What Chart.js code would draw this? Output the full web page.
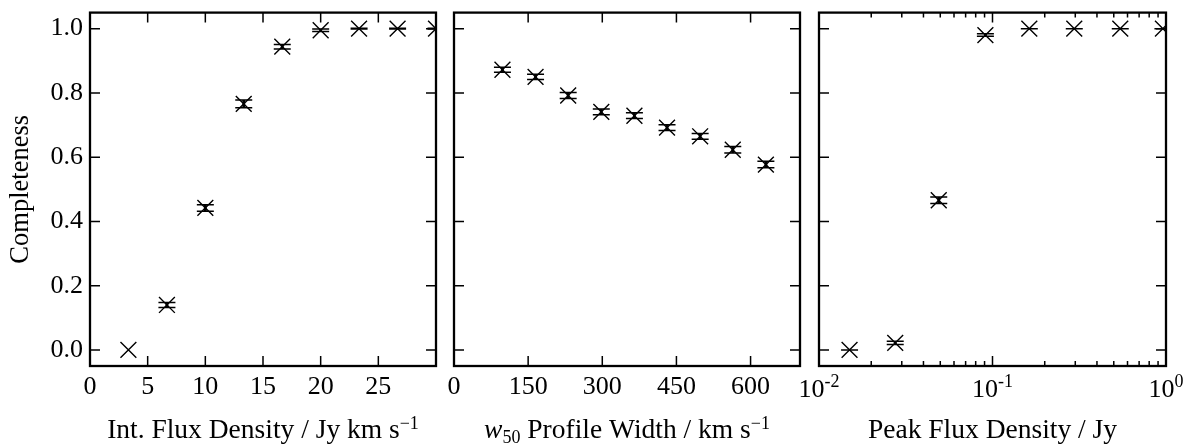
<!DOCTYPE html>
<html><head><meta charset="utf-8">
<script src="https://cdn.jsdelivr.net/npm/chart.js@4"></script>
<style>
html,body{margin:0;padding:0;background:#fff;}
#wrap{position:relative;width:1194px;height:448px;background:#fff;}
canvas{position:absolute;left:0;top:0;}
</style></head><body>
<div id="wrap">
<canvas id="c1" width="1194" height="448"></canvas>
<canvas id="c2" width="1194" height="448"></canvas>
<canvas id="c3" width="1194" height="448"></canvas>
</div>
<script>
// ---- data ----
const intFluxX   = [3.33, 6.67, 10, 13.33, 16.67, 20, 23.33, 26.67, 30];
const intFluxY   = [0.0, 0.140, 0.442, 0.766, 0.944, 0.995, 1.0, 1.0, 1.0];
const intFluxErr = [null, 0.008, 0.010, 0.012, 0.007, 0.004, 0.001, 0.001, 0.001];

const widthX   = [98, 165, 231, 298, 365, 431, 498, 564, 631];
const widthY   = [0.872, 0.850, 0.792, 0.741, 0.729, 0.692, 0.665, 0.623, 0.577];
const widthErr = [0.008, 0.008, 0.009, 0.009, 0.009, 0.009, 0.009, 0.010, 0.010];

const peakX   = [0.015, 0.0275, 0.049, 0.091, 0.163, 0.296, 0.545, 0.96];
const peakY   = [0.0, 0.022, 0.466, 0.980, 1.0, 1.0, 1.0, 1.0];
const peakErr = [0, 0.005, 0.010, 0.004, 0, 0, 0, 0];

const yTicks        = [0, 0.2, 0.4, 0.6, 0.8, 1.0];
const intFluxTicks  = [0, 5, 10, 15, 20, 25];
const widthTicks    = [0, 150, 300, 450, 600];
const peakTicks     = [0.01, 0.1, 1];
const peakTickBase  = ['10', '10', '10'];
const peakTickExp   = ['-2', '-1', '0'];

const yTitle = 'Completeness';

// ---- styling ----
const FONT = '"Liberation Serif", "Times New Roman", serif';
const TICK_PX = 26, TITLE_PX = 27.5, YTITLE_PX = 26.5, SUP_PX = 18;

function frameAndErrPlugin(cfg) {
  return {
    id: 'frame_' + cfg.id,
    beforeDatasetsDraw(chart) {
      const {ctx, chartArea: a} = chart;
      const xs = chart.scales.x, ys = chart.scales.y;
      ctx.save();
      ctx.beginPath(); ctx.rect(a.left, a.top, a.right - a.left, a.bottom - a.top); ctx.clip();
      ctx.strokeStyle = '#000';
      for (let i = 0; i < cfg.x.length; i++) {
        const e = cfg.err[i];
        if (e === null || e === undefined) continue;
        const px = xs.getPixelForValue(cfg.x[i]);
        const p1 = ys.getPixelForValue(cfg.y[i] - e);
        const p2 = ys.getPixelForValue(cfg.y[i] + e);
        ctx.lineWidth = 2.8;
        ctx.beginPath(); ctx.moveTo(px, p1); ctx.lineTo(px, p2); ctx.stroke();
        ctx.lineWidth = 1.5;
        ctx.beginPath();
        ctx.moveTo(px - 8.5, p1); ctx.lineTo(px + 8.5, p1);
        ctx.moveTo(px - 8.5, p2); ctx.lineTo(px + 8.5, p2);
        ctx.stroke();
      }
      ctx.restore();
    },
    afterDatasetsDraw(chart) {
      const {ctx, chartArea: a} = chart;
      const xs = chart.scales.x, ys = chart.scales.y;
      ctx.save();
      ctx.strokeStyle = '#000';
      ctx.lineWidth = 1.5;
      ctx.beginPath();
      for (const v of yTicks) {
        const py = ys.getPixelForValue(v);
        ctx.moveTo(a.left, py); ctx.lineTo(a.left + 10, py);
        ctx.moveTo(a.right, py); ctx.lineTo(a.right - 10, py);
      }
      for (const v of cfg.xTicks) {
        const px = xs.getPixelForValue(v);
        ctx.moveTo(px, a.bottom); ctx.lineTo(px, a.bottom - 10);
        ctx.moveTo(px, a.top); ctx.lineTo(px, a.top + 10);
      }
      if (cfg.log) {
        for (let d = 0; d < cfg.xTicks.length - 1; d++) {
          for (let k = 2; k <= 9; k++) {
            const px = xs.getPixelForValue(cfg.xTicks[d] * k);
            ctx.moveTo(px, a.bottom); ctx.lineTo(px, a.bottom - 5);
            ctx.moveTo(px, a.top); ctx.lineTo(px, a.top + 5);
          }
        }
      }
      ctx.stroke();
      ctx.lineWidth = 2.3;
      ctx.strokeRect(a.left, a.top, a.right - a.left, a.bottom - a.top);

      ctx.fillStyle = '#000';
      // log tick labels
      if (cfg.log) {
        ctx.textBaseline = 'alphabetic';
        ctx.textAlign = 'left';
        peakTicks.forEach((v, i) => {
          const px = xs.getPixelForValue(v);
          ctx.font = TICK_PX + 'px ' + FONT;
          const w1 = ctx.measureText(peakTickBase[i]).width;
          ctx.font = SUP_PX + 'px ' + FONT;
          const w2 = ctx.measureText(peakTickExp[i]).width;
          const x0 = px - (w1 + w2) / 2;
          ctx.font = TICK_PX + 'px ' + FONT;
          ctx.fillText(peakTickBase[i], x0, 397);
          ctx.font = SUP_PX + 'px ' + FONT;
          ctx.fillText(peakTickExp[i], x0 + w1, 387);
        });
      }
      // x title
      const segs = cfg.title;
      let total = 0;
      for (const s of segs) { ctx.font = s.font; s.w = ctx.measureText(s.t).width; total += s.w; }
      let x = (a.left + a.right) / 2 - total / 2;
      ctx.textAlign = 'left'; ctx.textBaseline = 'alphabetic';
      for (const s of segs) { ctx.font = s.font; ctx.fillText(s.t, x, 438 + s.dy); x += s.w; }
      // y title
      if (cfg.showY) {
        ctx.save();
        ctx.translate(28, (a.top + a.bottom) / 2);
        ctx.rotate(-Math.PI / 2);
        ctx.font = YTITLE_PX + 'px ' + FONT;
        ctx.textAlign = 'center'; ctx.textBaseline = 'alphabetic';
        ctx.fillText(yTitle, 0, 0);
        ctx.restore();
      }
      ctx.restore();
    }
  };
}

const F = (px, style) => (style ? style + ' ' : '') + px + 'px ' + FONT;

const panels = [
  { id: 'c1', left: 90, right: 436, x: intFluxX, y: intFluxY, err: intFluxErr,
    log: false, xMin: 0, xMax: 30, xTicks: intFluxTicks, showY: true, showXLabels: true,
    title: [{t: 'Int. Flux Density / Jy km s', font: F(TITLE_PX), dy: 0},
            {t: '\u22121', font: F(SUP_PX), dy: -9}] },
  { id: 'c2', left: 454, right: 800, x: widthX, y: widthY, err: widthErr,
    log: false, xMin: 0, xMax: 700, xTicks: widthTicks, showY: false, showXLabels: true,
    title: [{t: 'w', font: F(TITLE_PX, 'italic'), dy: 0},
            {t: '50', font: F(SUP_PX), dy: 5},
            {t: ' Profile Width / km s', font: F(TITLE_PX), dy: 0},
            {t: '\u22121', font: F(SUP_PX), dy: -9}] },
  { id: 'c3', left: 819, right: 1166, x: peakX, y: peakY, err: peakErr,
    log: true, xMin: 0.01, xMax: 1, xTicks: peakTicks, showY: false, showXLabels: false,
    title: [{t: 'Peak Flux Density / Jy', font: F(TITLE_PX), dy: 0}] }
];

const TOP = 6, BOTTOM = 366, W = 1194, H = 448;

for (const p of panels) {
  const pts = p.x.map((xv, i) => ({x: xv, y: p.y[i]}));
  new Chart(document.getElementById(p.id), {
    type: 'scatter',
    data: { datasets: [{
      data: pts,
      pointStyle: 'crossRot',
      pointRadius: 11.2,
      pointHoverRadius: 11.2,
      borderColor: '#000',
      backgroundColor: '#000',
      borderWidth: 1.4,
      showLine: false,
      clip: 0
    }]},
    options: {
      responsive: false,
      animation: false,
      devicePixelRatio: 1,
      events: [],
      layout: { padding: {
        left: p.showY ? 0 : p.left,
        right: W - p.right,
        top: TOP,
        bottom: p.showXLabels ? 0 : H - BOTTOM } },
      plugins: { legend: {display: false}, tooltip: {enabled: false} },
      scales: {
        x: {
          type: p.log ? 'logarithmic' : 'linear',
          display: p.showXLabels,
          min: p.xMin, max: p.xMax,
          grid: {display: false, drawTicks: false, tickLength: 0},
          border: {display: false},
          afterBuildTicks: s => { s.ticks = p.xTicks.map(v => ({value: v})); },
          afterFit: s => { s.height = p.showXLabels ? H - BOTTOM : 0; s.paddingLeft = 0; s.paddingRight = 0; s.paddingTop = 0; s.paddingBottom = 0; },
          ticks: { font: {family: FONT, size: TICK_PX}, color: '#000', padding: 6, maxRotation: 0,
                   autoSkip: false, callback: v => String(v) }
        },
        y: {
          type: 'linear',
          display: p.showY,
          min: -0.05, max: 1.05,
          grid: {display: false, drawTicks: false, tickLength: 0},
          border: {display: false},
          afterBuildTicks: s => { s.ticks = yTicks.map(v => ({value: v})); },
          afterFit: s => { s.width = p.showY ? p.left : 0; s.paddingLeft = 0; s.paddingRight = 0; s.paddingTop = 0; s.paddingBottom = 0; },
          ticks: { font: {family: FONT, size: TICK_PX}, color: '#000', padding: 7,
                   autoSkip: false, callback: v => Number(v).toFixed(1) }
        }
      }
    },
    plugins: [frameAndErrPlugin(p)]
  });
}
</script>
</body></html>
